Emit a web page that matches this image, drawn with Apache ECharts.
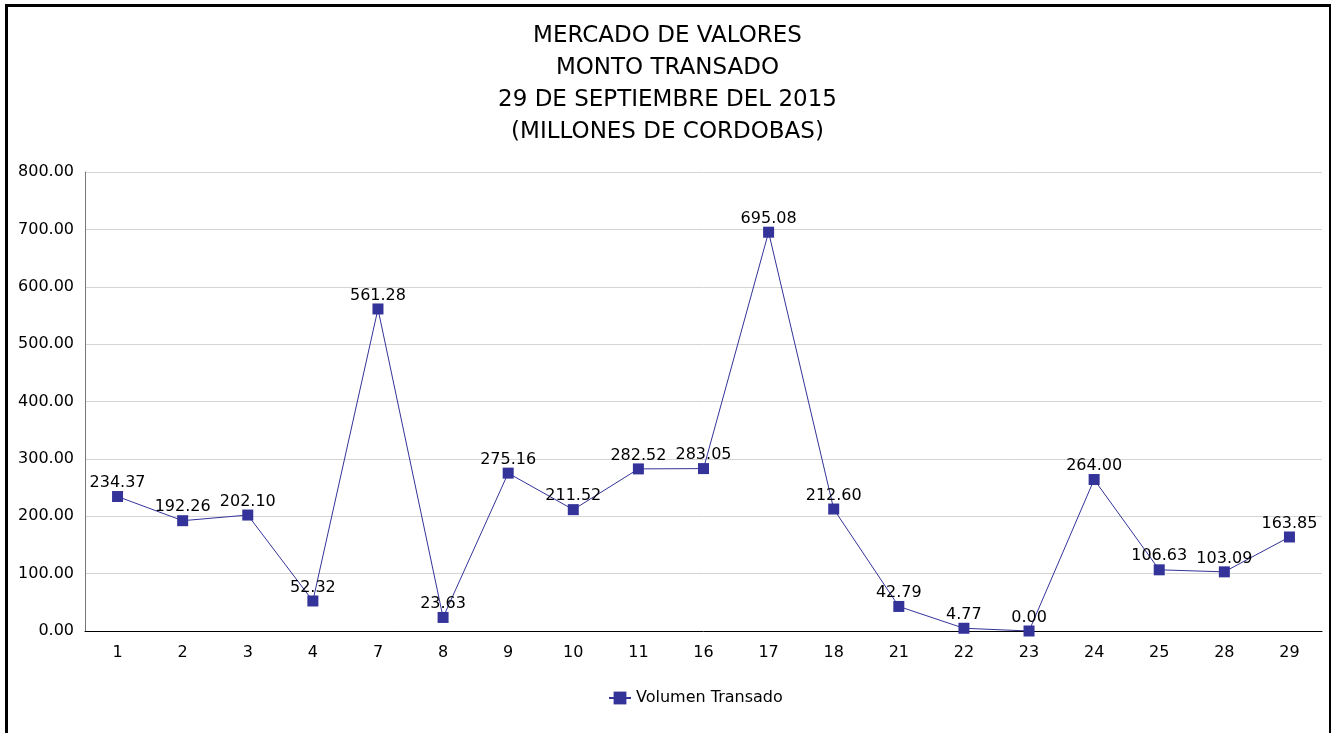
<!DOCTYPE html>
<html>
<head>
<meta charset="utf-8">
<script src="https://cdn.jsdelivr.net/npm/echarts@6/dist/echarts.min.js"></script>
<style>
  html, body { margin: 0; padding: 0; background: #fff; overflow: hidden; }
  #frame {
    position: absolute; left: 5px; top: 4px; width: 1326px; height: 760px;
    border-left: 3px solid #000; border-top: 3px solid #000; border-right: 2px solid #000;
    box-sizing: border-box;
  }
  #main { position: absolute; left: 0; top: 0; width: 1335px; height: 733px; }
</style>
</head>
<body>
<div id="frame"></div>
<div id="main"></div>
<script>
// días de septiembre con operaciones
const dias = ['1', '2', '3', '4', '7', '8', '9', '10', '11', '16', '17', '18', '21', '22', '23', '24', '25', '28', '29']
// monto transado, millones de córdobas
const volumen = [234.37, 192.26, 202.10, 52.32, 561.28, 23.63, 275.16, 211.52, 282.52, 283.05,
  695.08, 212.60, 42.79, 4.77, 0.00, 264.00, 106.63, 103.09, 163.85]
const titulo = 'MERCADO DE VALORES\nMONTO TRANSADO\n29 DE SEPTIEMBRE DEL 2015\n(MILLONES DE CORDOBAS)'

const fuente = 'Tahoma, "DejaVu Sans", sans-serif'
const chart = echarts.init(document.getElementById('main'))

const option = {
  animation: false,
  textStyle: { fontFamily: fuente },
  title: {
    text: titulo,
    left: 'center',
    top: 15,
    textStyle: { fontFamily: fuente, fontSize: 23, fontWeight: 'normal', color: '#000', lineHeight: 32 }
  },
  legend: {
    data: ['Volumen Transado'],
    bottom: 22,
    left: 603,
    itemWidth: 22,
    itemHeight: 16,
    itemGap: 10,
    textStyle: { fontFamily: fuente, fontSize: 16, color: '#000' }
  },
  grid: { left: 85, right: 13, top: 172, bottom: 102 },
  xAxis: {
    type: 'category',
    data: dias,
    boundaryGap: true,
    axisLine: { lineStyle: { color: '#000', width: 1 } },
    axisTick: { show: false },
    axisLabel: { color: '#000', fontSize: 16, margin: 14 }
  },
  yAxis: {
    type: 'value',
    min: 0,
    max: 800,
    interval: 100,
    axisLine: { show: true, lineStyle: { color: '#777' } },
    axisTick: { show: false },
    axisLabel: { color: '#000', fontSize: 16, margin: 11, formatter: v => v.toFixed(2) },
    splitLine: { lineStyle: { color: '#d4d4d4' } }
  },
  series: [{
    name: 'Volumen Transado',
    type: 'line',
    data: volumen,
    symbol: 'rect',
    symbolSize: 11,
    lineStyle: { color: '#333399', width: 1 },
    itemStyle: { color: '#333399' },
    label: {
      show: true,
      position: 'top',
      distance: 0,
      color: '#000',
      fontSize: 16,
      formatter: p => p.value.toFixed(2)
    }
  }]
}
chart.setOption(option)
</script>
</body>
</html>
